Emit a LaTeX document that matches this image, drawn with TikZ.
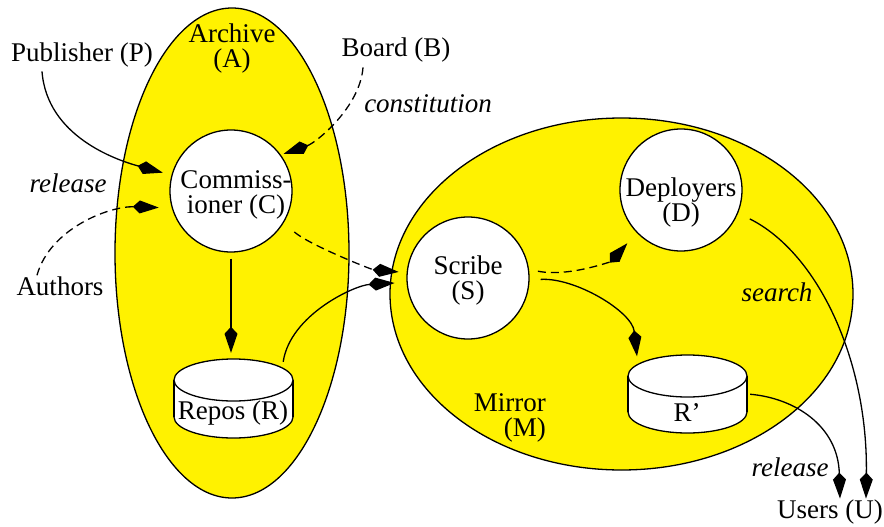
\documentclass[tikz,border=0pt]{standalone}
\usepackage{fontspec}
\setmainfont{Liberation Serif}
\usetikzlibrary{arrows.meta,shapes.geometric}
\begin{document}
\begin{tikzpicture}[x=1pt,y=-1pt,
  every node/.style={font=\fontsize{27}{25}\selectfont},
  region/.style={ellipse, draw, fill=yellow, line width=1.3pt, inner sep=0pt},
  disc/.style={circle, draw, fill=white, line width=1.3pt, minimum size=122pt, inner sep=0pt},
  txt/.style={inner sep=1pt, align=center},
  cylbox/.style={rectangle, minimum width=119pt, minimum height=79pt, inner sep=0pt},
  edge/.style={line width=1.3pt},
  flow/.style={edge, -{Kite[length=26pt,width=13pt,inset=7pt]}},
  dflow/.style={flow, dash pattern=on 8pt off 5pt},
]
\useasboundingbox (0,0) rectangle (884,527);

% the two organisations
\node[region, minimum width=234pt, minimum height=490pt] (archive) at (232,253) {};
\node[region, minimum width=463pt, minimum height=352pt] (mirror) at (621.5,294) {};

% roles drawn as discs
\node[disc, label={[txt, xshift=5pt, yshift=-3.5pt]center:Commiss-\\ioner (C)}] (comm) at (231,191) {};
\node[disc, label={[txt, yshift=-2.5pt]center:Scribe\\(S)}] (scribe) at (468,278) {};
\node[disc, label={[txt, yshift=-13pt]center:Deployers\\(D)}] (deploy) at (681,190) {};

% repositories drawn as cylinders
\node[cylbox] (repos) at (233.5,398.5) {};
\filldraw[edge, fill=white] (233.5,417) ellipse [x radius=59.5, y radius=21];
\fill[white] (174,380) rectangle (293,417);
\draw[edge] (174,380) -- (174,417) (293,380) -- (293,417);
\filldraw[edge, fill=white] (233.5,380) ellipse [x radius=59.5, y radius=21];
\node[txt] (repos-lbl) at (233,413) {Repos (R)};

\node[cylbox] (rprime) at (687.5,394) {};
\filldraw[edge, fill=white] (687.5,412) ellipse [x radius=59.5, y radius=21];
\fill[white] (628,376) rectangle (747,412);
\draw[edge] (628,376) -- (628,412) (747,376) -- (747,412);
\filldraw[edge, fill=white] (687.5,376) ellipse [x radius=59.5, y radius=21];
\node[txt] (rprime-lbl) at (687,413) {R’};

% outside parties and region names
\node[txt] (archive-lbl) at (232,48.5) {Archive\\(A)};
\node[txt, align=right, anchor=east] (mirror-lbl) at (547,417.5) {Mirror\\(M)};
\node[txt] (pub) at (82,55) {Publisher (P)};
\node[txt] (board) at (396,50) {Board (B)};
\node[txt] (auth) at (60,286) {Authors};
\node[txt] (users) at (830,512) {Users (U)};

% edge labels
\node[txt, font=\fontsize{27}{25}\selectfont\itshape] (rel1) at (68,183) {release};
\node[txt, font=\fontsize{27}{25}\selectfont\itshape] (const) at (428,104) {constitution};
\node[txt, font=\fontsize{27}{25}\selectfont\itshape] (search) at (777,292) {search};
\node[txt, font=\fontsize{27}{25}\selectfont\itshape] (rel2) at (790,467) {release};

% flows
\draw[flow, shorten >=9pt] ([xshift=-40pt,yshift=-3pt]pub.south)
  .. controls +(5,65) and +(-55,-15) .. (comm.165);
\draw[dflow, shorten >=13pt] ([xshift=-23pt]auth.north)
  .. controls +(13,-47) and +(-62,-2) .. (comm.196);
\draw[dflow, shorten >=3pt] ([xshift=-33pt,yshift=-4pt]board.south)
  .. controls +(-3,40) and +(35,-12) .. (comm.36);
\draw[dflow, shorten <=14pt, shorten >=8pt] (comm.-31)
  .. controls +(25,22) and +(-35,-3) .. (scribe.175);
\draw[flow, shorten <=6pt, shorten >=6pt] (comm.south) -- (comm.south |- repos.north);
\draw[flow, shorten >=12pt] ([xshift=-10pt,yshift=-3pt]repos.north east)
  .. controls +(7,-47) and +(-52,3) .. (scribe.184);
\draw[dflow, shorten <=9pt, shorten >=14pt] (scribe.8)
  .. controls +(40,8) and +(-25,28) .. (deploy.224);
\draw[flow, shorten <=11pt] (scribe.-2)
  .. controls +(45,-3) and +(-5,-45) .. ([xshift=-50.5pt,yshift=-2pt]rprime.north);
\draw[flow, shorten <=13pt] (deploy.-22)
  .. controls +(80,40) and +(2,-138) .. ([xshift=36pt]users.north);
\draw[flow, shorten <=3pt] (rprime.east)
  .. controls +(47,4) and +(-2,-73) .. ([xshift=10pt]users.north);
\end{tikzpicture}
\end{document}
